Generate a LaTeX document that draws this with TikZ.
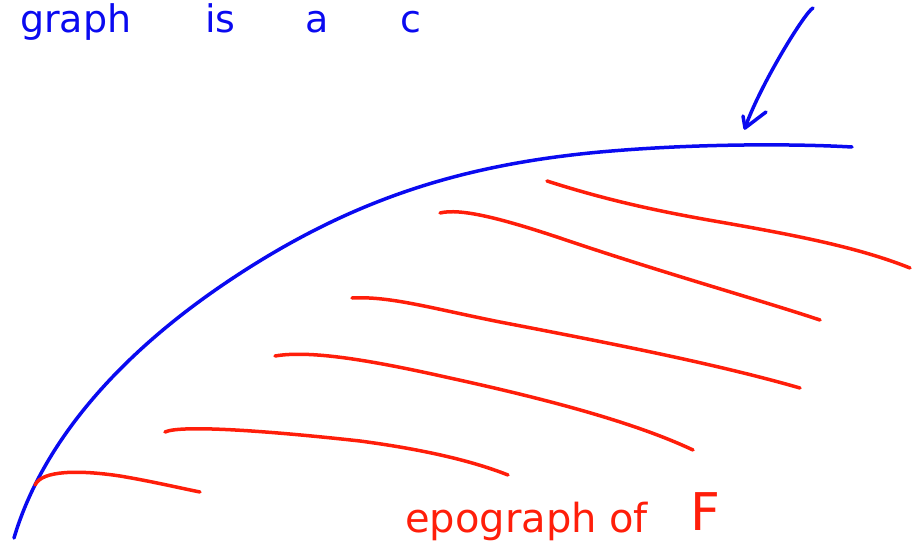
\documentclass[tikz,border=0pt]{standalone}
\usepackage{fontspec}
\setmainfont{DejaVu Sans}
\usetikzlibrary{arrows.meta}
\definecolor{penblue}{RGB}{10,10,240}
\definecolor{penred}{RGB}{255,30,10}
\begin{document}
\begin{tikzpicture}[x=1pt,y=-1pt,
  bluepen/.style={penblue,line width=3.5pt,line cap=round,line join=round},
  redpen/.style={penred,line width=3.5pt,line cap=round,line join=round},
  bluetxt/.style={penblue,font=\fontsize{38}{42}\selectfont,anchor=base west,inner sep=0pt},
  redtxt/.style={penred,font=\fontsize{40}{44}\selectfont,anchor=base west,inner sep=0pt}]
\useasboundingbox (0,0) rectangle (914,554);
% graph curve
\draw[bluepen] (14,538) .. controls (40,450) and (110,360) .. (230,280)
  .. controls (350,200) and (460,165) .. (600,152)
  .. controls (700,143) and (800,144) .. (852,147);
% arrow
\coordinate (as) at (813,8);
\coordinate (ae) at (745,128);
\draw[bluepen] (as) .. controls (805,12) and (760,85) .. (ae);
\draw[bluepen] (743,116) -- (ae) -- (766,112);
% hatch lines
\draw[redpen] (35,485) .. controls (42,470) and (80,470) .. (120,476) .. controls (150,481) and (180,488) .. (200,492);
\draw[redpen] (165,432) .. controls (180,425) and (260,430) .. (360,441) .. controls (420,449) and (470,460) .. (508,475);
\draw[redpen] (275,356) .. controls (310,350) and (370,360) .. (450,378) .. controls (560,402) and (640,425) .. (693,450);
\draw[redpen] (352,298) .. controls (390,296) and (430,308) .. (500,322) .. controls (620,345) and (720,365) .. (800,388);
\draw[redpen] (440,213) .. controls (460,208) and (500,218) .. (560,238) .. controls (660,272) and (760,300) .. (820,320);
\draw[redpen] (547,181) .. controls (600,198) and (650,210) .. (720,222) .. controls (800,236) and (860,248) .. (910,268);
% texts
\node[bluetxt] (t1) at (20,32) {graph};
\node[bluetxt] (t2) at (205,32) {is};
\node[bluetxt] (t3) at (305,32) {a};
\node[bluetxt] (t4) at (400,32) {c};
\node[redtxt] (e1) at (405,532) {epograph of};
\node[redtxt,font=\fontsize{52}{56}\selectfont] (e2) at (690,530) {F};
\end{tikzpicture}
\end{document}
